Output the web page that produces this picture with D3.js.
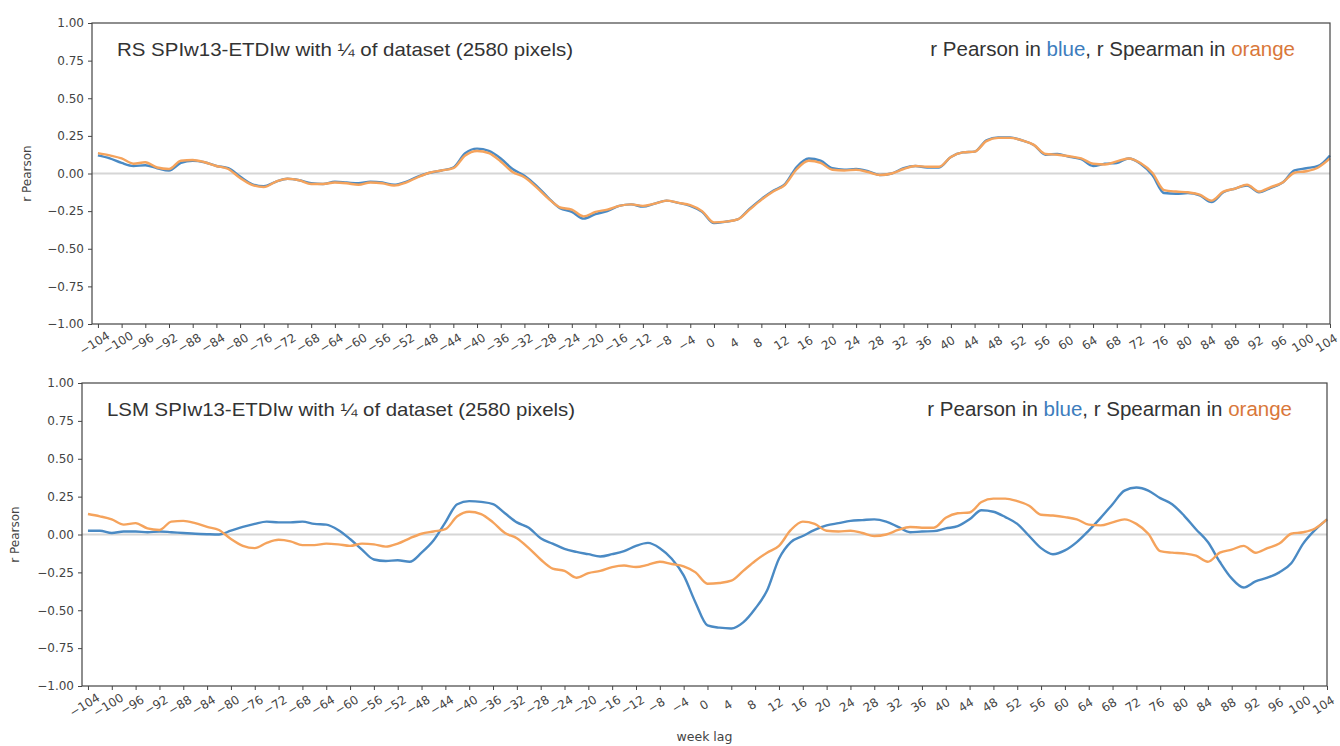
<!DOCTYPE html>
<html>
<head>
<meta charset="utf-8">
<script src="https://cdn.jsdelivr.net/npm/d3@7"></script>
<style>
  body { margin: 0; background: #fff; }
  svg { display: block; }
</style>
</head>
<body>
<svg id="chart" width="1340" height="746"></svg>
<script>
// Week lags sampled every two weeks
const lags = d3.range(-104, 105, 2);
const xTickValues = d3.range(-104, 105, 4);
const yTickValues = [1, 0.75, 0.5, 0.25, 0, -0.25, -0.5, -0.75, -1];

const rsPearson = [
  0.12, 0.10, 0.07, 0.05, 0.055, 0.035, 0.02, 0.07, 0.085, 0.075,
  0.05, 0.035, -0.02, -0.07, -0.085, -0.055, -0.035, -0.045, -0.065, -0.07,
  -0.055, -0.06, -0.065, -0.055, -0.06, -0.075, -0.055, -0.02, 0.005, 0.02,
  0.04, 0.135, 0.165, 0.15, 0.1, 0.03, -0.015, -0.08, -0.16, -0.23,
  -0.255, -0.3, -0.27, -0.25, -0.215, -0.205, -0.22, -0.2, -0.18, -0.195,
  -0.215, -0.255, -0.33, -0.32, -0.305, -0.235, -0.17, -0.115, -0.07, 0.045,
  0.1, 0.085, 0.035, 0.025, 0.03, 0.015, -0.01, 0, 0.035, 0.05,
  0.04, 0.04, 0.11, 0.14, 0.145, 0.22, 0.24, 0.24, 0.22, 0.19,
  0.125, 0.13, 0.11, 0.095, 0.05, 0.065, 0.07, 0.1, 0.065, -0.01,
  -0.13, -0.135, -0.13, -0.145, -0.19, -0.125, -0.1, -0.08, -0.125, -0.095,
  -0.06, 0.02, 0.035, 0.05, 0.12
];

const rsSpearman = [
  0.135, 0.12, 0.10, 0.065, 0.075, 0.04, 0.03, 0.085, 0.09, 0.075,
  0.05, 0.03, -0.03, -0.075, -0.09, -0.055, -0.035, -0.045, -0.07, -0.07,
  -0.06, -0.065, -0.075, -0.06, -0.065, -0.08, -0.06, -0.025, 0.005, 0.02,
  0.035, 0.12, 0.15, 0.135, 0.08, 0.01, -0.025, -0.09, -0.165, -0.225,
  -0.24, -0.285, -0.255, -0.24, -0.215, -0.205, -0.215, -0.2, -0.18, -0.195,
  -0.21, -0.25, -0.325, -0.32, -0.305, -0.24, -0.175, -0.12, -0.075, 0.03,
  0.085, 0.07, 0.025, 0.02, 0.025, 0.01, -0.01, 0, 0.03, 0.05,
  0.045, 0.045, 0.11, 0.14, 0.145, 0.215, 0.237, 0.237, 0.22, 0.19,
  0.13, 0.125, 0.115, 0.1, 0.065, 0.06, 0.08, 0.1, 0.07, 0.005,
  -0.11, -0.12, -0.125, -0.14, -0.18, -0.12, -0.1, -0.075, -0.12, -0.09,
  -0.06, 0.005, 0.015, 0.04, 0.1
];

const lsmPearson = [
  0.025, 0.025, 0.01, 0.02, 0.02, 0.015, 0.02, 0.015, 0.01, 0.005,
  0.002, 0, 0.025, 0.05, 0.07, 0.085, 0.08, 0.08, 0.085, 0.07,
  0.065, 0.03, -0.03, -0.1, -0.165, -0.175, -0.17, -0.18, -0.12, -0.04,
  0.08, 0.2, 0.22, 0.215, 0.2, 0.14, 0.08, 0.045, -0.025, -0.06,
  -0.095, -0.115, -0.13, -0.145, -0.13, -0.11, -0.075, -0.055, -0.09, -0.16,
  -0.27, -0.45, -0.6, -0.615, -0.62, -0.58, -0.49, -0.37, -0.16, -0.05,
  -0.01, 0.03, 0.06, 0.075, 0.09, 0.095, 0.1, 0.085, 0.05, 0.015,
  0.02, 0.022, 0.04, 0.055, 0.1, 0.16, 0.15, 0.115, 0.07, -0.01,
  -0.09, -0.13, -0.105, -0.05, 0.026, 0.11, 0.2, 0.29, 0.31, 0.29,
  0.24, 0.2, 0.125, 0.035, -0.05, -0.18, -0.29, -0.35, -0.31, -0.285,
  -0.25, -0.19, -0.06, 0.03, 0.1
];

const lsmSpearman = [
  0.135, 0.12, 0.10, 0.065, 0.075, 0.04, 0.03, 0.085, 0.09, 0.075,
  0.05, 0.03, -0.03, -0.075, -0.09, -0.055, -0.035, -0.045, -0.07, -0.07,
  -0.06, -0.065, -0.075, -0.06, -0.065, -0.08, -0.06, -0.025, 0.005, 0.02,
  0.035, 0.12, 0.15, 0.135, 0.08, 0.01, -0.025, -0.09, -0.165, -0.225,
  -0.24, -0.285, -0.255, -0.24, -0.215, -0.205, -0.215, -0.2, -0.18, -0.195,
  -0.21, -0.25, -0.325, -0.32, -0.305, -0.24, -0.175, -0.12, -0.075, 0.03,
  0.085, 0.07, 0.025, 0.02, 0.025, 0.01, -0.01, 0, 0.03, 0.05,
  0.045, 0.045, 0.11, 0.14, 0.145, 0.215, 0.237, 0.237, 0.22, 0.19,
  0.13, 0.125, 0.115, 0.1, 0.065, 0.06, 0.08, 0.1, 0.07, 0.005,
  -0.11, -0.12, -0.125, -0.14, -0.18, -0.12, -0.1, -0.075, -0.12, -0.09,
  -0.06, 0.005, 0.015, 0.04, 0.1
];

const panelTitles = [
  "RS SPIw13-ETDIw with ¼ of dataset (2580 pixels)",
  "LSM SPIw13-ETDIw with ¼ of dataset (2580 pixels)"
];
const yLabel = "r Pearson";
const xLabel = "week lag";

const BLUE = "#4a8ac4";
const ORANGE = "#f5a35c";
const AXIS = "#444";

const svg = d3.select("#chart");

const panels = [
  { left: 92, right: 1330, top: 23, bottom: 324, ylabX: 27, titleW: 456,
    title: panelTitles[0], pearson: rsPearson, spearman: rsSpearman },
  { left: 82, right: 1327, top: 383, bottom: 686, ylabX: 15, titleW: 468,
    title: panelTitles[1], pearson: lsmPearson, spearman: lsmSpearman }
];

panels.forEach(p => {
  const x = d3.scaleLinear().domain([-105, 104]).range([p.left, p.right]);
  const y = d3.scaleLinear().domain([-1, 1]).range([p.bottom, p.top]);
  const g = svg.append("g");

  // zero reference line
  g.append("line")
    .attr("x1", p.left).attr("x2", p.right)
    .attr("y1", y(0)).attr("y2", y(0))
    .attr("stroke", "#d6d6d6").attr("stroke-width", 2);

  const line = d3.line()
    .x((d, i) => x(lags[i]))
    .y(d => y(d))
    .curve(d3.curveMonotoneX);

  g.append("path").datum(p.pearson)
    .attr("d", line).attr("fill", "none")
    .attr("stroke", BLUE).attr("stroke-width", 2.4)
    .attr("stroke-linejoin", "round");
  g.append("path").datum(p.spearman)
    .attr("d", line).attr("fill", "none")
    .attr("stroke", ORANGE).attr("stroke-width", 2.4)
    .attr("stroke-linejoin", "round");

  // frame
  g.append("rect")
    .attr("x", p.left).attr("y", p.top)
    .attr("width", p.right - p.left).attr("height", p.bottom - p.top)
    .attr("fill", "none").attr("stroke", AXIS).attr("stroke-width", 1.2);

  // y axis
  const ya = g.append("g").attr("transform", `translate(${p.left},0)`)
    .call(d3.axisLeft(y).tickValues(yTickValues).tickFormat(d3.format(".2f")).tickSize(4).tickPadding(4));
  ya.select(".domain").remove();
  ya.selectAll("line").attr("stroke", AXIS);
  ya.selectAll("text").attr("fill", AXIS)
    .style("font-family", "DejaVu Sans, sans-serif").style("font-size", "12px");

  // x axis with slanted labels
  const xa = g.append("g").attr("transform", `translate(0,${p.bottom})`)
    .call(d3.axisBottom(x).tickValues(xTickValues).tickFormat(d3.format("d")).tickSize(4));
  xa.select(".domain").remove();
  xa.selectAll("line").attr("stroke", AXIS);
  xa.selectAll("text")
    .attr("y", 0).attr("dy", "0.35em")
    .attr("text-anchor", "middle")
    .attr("transform", "translate(-4,19) rotate(-32)")
    .attr("fill", AXIS)
    .style("font-family", "DejaVu Sans, sans-serif").style("font-size", "12px");

  // y label
  g.append("text")
    .attr("transform", `translate(${p.ylabX},${(p.top + p.bottom) / 2}) rotate(-90)`)
    .attr("text-anchor", "middle").attr("dy", "0.35em")
    .attr("fill", AXIS)
    .style("font-family", "DejaVu Sans, sans-serif").style("font-size", "12px")
    .text(yLabel);

  // panel title
  g.append("text")
    .attr("x", p.left + 25).attr("y", p.top + 33)
    .attr("fill", "#333")
    .attr("textLength", p.titleW).attr("lengthAdjust", "spacingAndGlyphs")
    .style("font-family", "Liberation Sans, Arial, sans-serif").style("font-size", "19px")
    .text(p.title);

  // colour key
  const key = g.append("text")
    .attr("x", p.right - 35).attr("y", p.top + 33)
    .attr("text-anchor", "end")
    .attr("fill", "#333")
    .style("font-family", "Liberation Sans, Arial, sans-serif").style("font-size", "20.5px");
  key.append("tspan").text("r Pearson in ");
  key.append("tspan").attr("fill", "#3d7dbd").text("blue");
  key.append("tspan").text(", r Spearman in ");
  key.append("tspan").attr("fill", "#d9773a").text("orange");
});

// x label below the lower panel
svg.append("text")
  .attr("x", (82 + 1327) / 2).attr("y", 741)
  .attr("text-anchor", "middle").attr("fill", AXIS)
  .style("font-family", "DejaVu Sans, sans-serif").style("font-size", "12.5px")
  .text(xLabel);
</script>
</body>
</html>
